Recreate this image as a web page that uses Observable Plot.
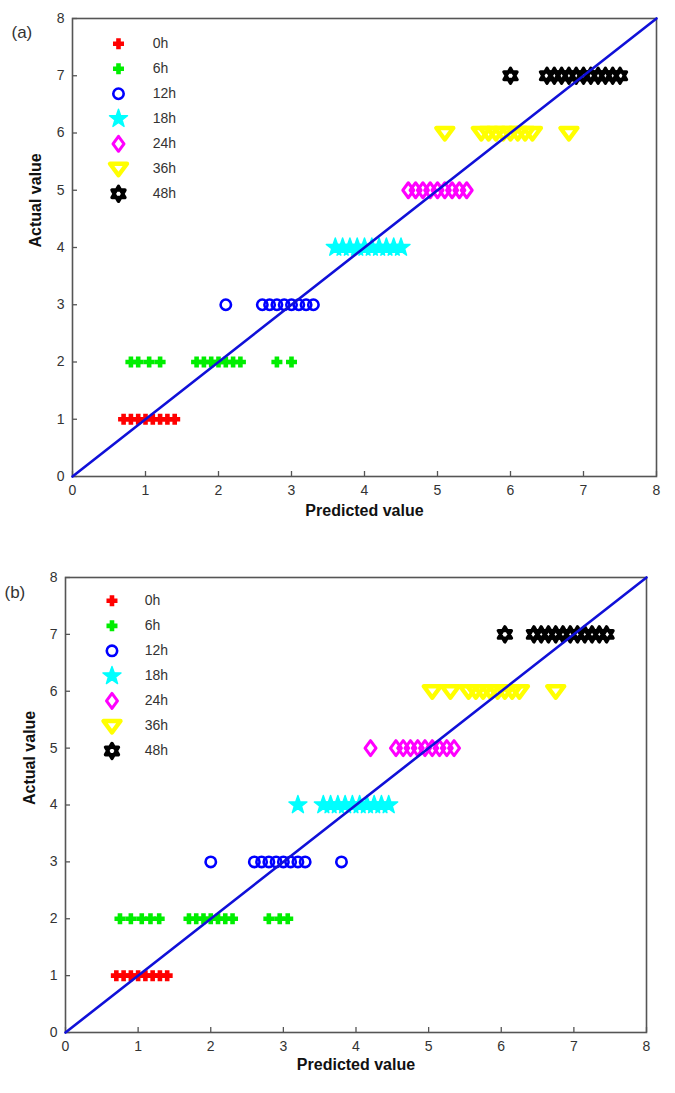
<!DOCTYPE html>
<html>
<head>
<meta charset="utf-8">
<script src="https://cdn.jsdelivr.net/npm/d3@7"></script>
<script src="https://cdn.jsdelivr.net/npm/@observablehq/plot@0.6"></script>
<style>
  body { margin: 0; background: #fff; }
  #chart { width: 675px; height: 1093px; }
  #chart svg { display: block; }
</style>
</head>
<body>
<div id="chart"></div>
<script>
// ---------- data ----------
const seriesNames = ["0h", "6h", "12h", "18h", "24h", "36h", "48h"];
const actualValues = [1, 2, 3, 4, 5, 6, 7];
const seriesColors = ["#ff0000", "#00ee00", "#0000ff", "#00ffff", "#ff00ff", "#ffff00", "#000000"];
const axisTicks = [0, 1, 2, 3, 4, 5, 6, 7, 8];
const refLine = [0, 8];

// panel (a): predicted values per series
const predA0h = [0.7, 0.8, 0.9, 1.0, 1.1, 1.2, 1.3, 1.4];
const predA6h = [0.8, 0.9, 1.05, 1.2, 1.7, 1.8, 1.9, 2.0, 2.1, 2.2, 2.3, 2.8, 3.0];
const predA12h = [2.1, 2.6, 2.7, 2.8, 2.9, 3.0, 3.1, 3.2, 3.3];
const predA18h = [3.6, 3.7, 3.8, 3.9, 4.0, 4.1, 4.2, 4.3, 4.4, 4.5];
const predA24h = [4.6, 4.7, 4.8, 4.9, 5.0, 5.1, 5.2, 5.3, 5.4];
const predA36h = [5.1, 5.6, 5.7, 5.8, 5.9, 6.0, 6.1, 6.2, 6.3, 6.8];
const predA48h = [6.0, 6.5, 6.6, 6.7, 6.8, 6.9, 7.0, 7.1, 7.2, 7.3, 7.4, 7.5];

// panel (b): predicted values per series
const predB0h = [0.7, 0.8, 0.9, 1.0, 1.1, 1.2, 1.3, 1.4];
const predB6h = [0.75, 0.9, 1.05, 1.17, 1.29, 1.7, 1.8, 1.9, 2.0, 2.1, 2.2, 2.3, 2.8, 2.95, 3.06];
const predB12h = [2.0, 2.6, 2.7, 2.8, 2.9, 3.0, 3.1, 3.2, 3.3, 3.8];
const predB18h = [3.2, 3.55, 3.65, 3.75, 3.85, 3.95, 4.05, 4.15, 4.25, 4.35, 4.45];
const predB24h = [4.2, 4.55, 4.65, 4.75, 4.85, 4.95, 5.05, 5.15, 5.25, 5.35];
const predB36h = [5.05, 5.3, 5.55, 5.65, 5.75, 5.85, 5.95, 6.05, 6.15, 6.25, 6.75];
const predB48h = [6.05, 6.45, 6.55, 6.65, 6.75, 6.85, 6.95, 7.05, 7.15, 7.25, 7.35, 7.45];

// ---------- marker shapes (MATLAB-like, thick outlines) ----------
const plusSym = { draw(c) { c.moveTo(-5.5, 0); c.lineTo(5.5, 0); c.moveTo(0, -5.5); c.lineTo(0, 5.5); } };
const circleSym = { draw(c) { c.moveTo(5.2, 0); c.arc(0, 0, 5.2, 0, 2 * Math.PI); } };
const starSym = { draw(c) {
  for (let k = 0; k < 10; k++) {
    const r = k % 2 ? 3.8 : 9.5, a = -Math.PI / 2 + k * Math.PI / 5;
    k ? c.lineTo(r * Math.cos(a), r * Math.sin(a)) : c.moveTo(r * Math.cos(a), r * Math.sin(a));
  }
  c.closePath();
} };
const diamondSym = { draw(c) { c.moveTo(0, -7.5); c.lineTo(5.5, 0); c.lineTo(0, 7.5); c.lineTo(-5.5, 0); c.closePath(); } };
const triDownSym = { draw(c) { c.moveTo(-8.5, -5); c.lineTo(8.5, -5); c.lineTo(0, 6.5); c.closePath(); } };
const hexSym = { draw(c) {
  const R = 7.5;
  for (const off of [-Math.PI / 2, Math.PI / 2]) {
    for (let k = 0; k < 3; k++) {
      const a = off + k * 2 * Math.PI / 3;
      k ? c.lineTo(R * Math.cos(a), R * Math.sin(a)) : c.moveTo(R * Math.cos(a), R * Math.sin(a));
    }
    c.closePath();
  }
} };
const markerStyles = [
  { symbol: plusSym, strokeWidth: 4.6 },
  { symbol: plusSym, strokeWidth: 4.6 },
  { symbol: circleSym, strokeWidth: 2.6 },
  { symbol: starSym, fillColor: true, strokeWidth: 1.4 },
  { symbol: diamondSym, strokeWidth: 3 },
  { symbol: triDownSym, strokeWidth: 4.4 },
  { symbol: hexSym, strokeWidth: 3.4 }
];

function seriesMarks(rows, xKey, yKey) {
  return seriesNames.map((name, i) => {
    const st = markerStyles[i];
    return Plot.dot(rows.filter(d => d.series === name), {
      x: xKey, y: yKey, r: 5,
      symbol: st.symbol,
      stroke: seriesColors[i],
      fill: st.fillColor ? seriesColors[i] : "none",
      strokeWidth: st.strokeWidth,
      strokeLinejoin: "round"
    });
  });
}

function panel(cfg) {
  const rows = [];
  cfg.pred.forEach((arr, i) => arr.forEach(v => rows.push({ series: seriesNames[i], predicted: v, actual: actualValues[i] })));
  const legendRows = seriesNames.map((name, i) => ({ series: name, lx: cfg.legendX, ly: cfg.legendTop - i * cfg.legendStep }));
  const innerW = 675 - cfg.marginLeft - cfg.marginRight;
  const innerH = cfg.height - cfg.marginTop - cfg.marginBottom;
  const tickX = 5 * 8 / innerW, tickY = 5 * 8 / innerH;
  return Plot.plot({
    width: 675,
    height: cfg.height,
    marginLeft: cfg.marginLeft,
    marginRight: cfg.marginRight,
    marginTop: cfg.marginTop,
    marginBottom: cfg.marginBottom,
    style: { fontFamily: "Arial, 'Liberation Sans', sans-serif", fontSize: "14px", color: "#333", background: "#fff" },
    x: { domain: [0, 8] },
    y: { domain: [0, 8] },
    marks: [
      Plot.ruleX(axisTicks, { x: d => d, y1: 0, y2: tickY, stroke: "#555", strokeWidth: 1.3 }),
      Plot.ruleY(axisTicks, { y: d => d, x1: 0, x2: tickX, stroke: "#555", strokeWidth: 1.3 }),
      Plot.frame({ stroke: "#555", strokeWidth: 1.6 }),
      Plot.axisX(axisTicks, { tickSize: 0, tickPadding: 9, tickFormat: d => String(d), fontSize: 14, fill: "#333" }),
      Plot.axisY(axisTicks, { tickSize: 0, tickPadding: 8, tickFormat: d => String(d), fontSize: 14, fill: "#333" }),
      ...seriesMarks(rows, "predicted", "actual"),
      ...seriesMarks(legendRows, "lx", "ly"),
      Plot.text(legendRows, { x: d => d.lx + cfg.legendGap, y: "ly", text: "series", textAnchor: "start", fontSize: 14, fill: "#333" }),
      Plot.line(refLine, { x: d => d, y: d => d, stroke: "#1010d8", strokeWidth: 2.6 }),
      Plot.text(["Predicted value"], { text: d => d, frameAnchor: "bottom", dy: cfg.xTitleDy, fontWeight: "bold", fontSize: 16, fill: "#111" }),
      Plot.text(["Actual value"], { text: d => d, frameAnchor: "left", dx: cfg.yTitleDx, rotate: -90, fontWeight: "bold", fontSize: 16, fill: "#111" }),
      Plot.text([cfg.label], { text: d => d, frameAnchor: "top-left", dx: cfg.labelDx, dy: cfg.labelDy, textAnchor: "start", fontSize: 17, fill: "#333" })
    ]
  });
}

const chart = document.getElementById("chart");
chart.append(panel({
  label: "(a)",
  pred: [predA0h, predA6h, predA12h, predA18h, predA24h, predA36h, predA48h],
  height: 545, marginTop: 18, marginBottom: 69, marginLeft: 72, marginRight: 19,
  legendX: 0.63, legendGap: 0.47, legendTop: 7.56, legendStep: 0.437,
  xTitleDy: 39, yTitleDx: -37, labelDx: -61, labelDy: 7
}));
chart.append(panel({
  label: "(b)",
  pred: [predB0h, predB6h, predB12h, predB18h, predB24h, predB36h, predB48h],
  height: 548, marginTop: 32, marginBottom: 61, marginLeft: 65, marginRight: 29,
  legendX: 0.64, legendGap: 0.45, legendTop: 7.59, legendStep: 0.44,
  xTitleDy: 37, yTitleDx: -36, labelDx: -61, labelDy: 8
}));
</script>
</body>
</html>
